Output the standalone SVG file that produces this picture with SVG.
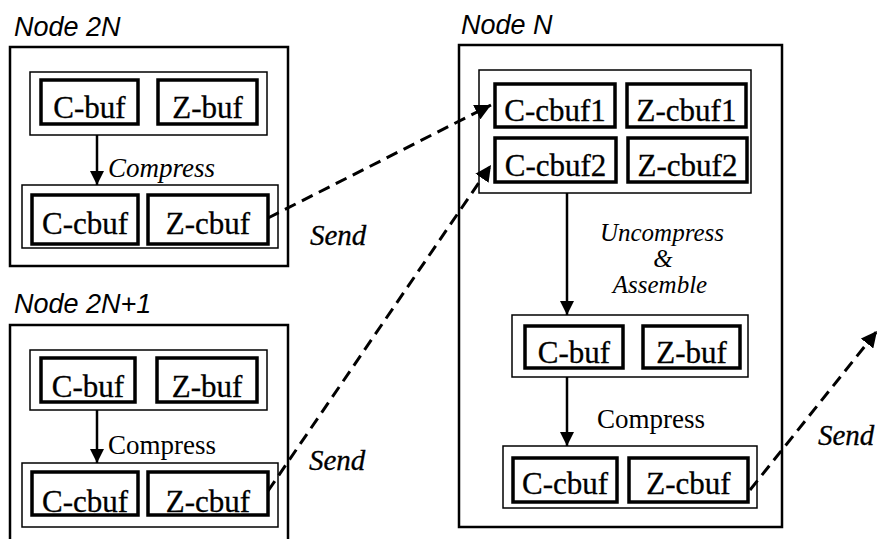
<svg xmlns="http://www.w3.org/2000/svg" width="877" height="539" viewBox="0 0 877 539">
  <style>
    .node { fill: none; stroke: #000; stroke-width: 2.5; }
    .group { fill: none; stroke: #000; stroke-width: 1.5; }
    .buf { fill: #fff; stroke: #000; stroke-width: 3.5; }
    .title { font-family: "Liberation Sans", Arial, sans-serif; font-style: italic; font-size: 27px; fill: #000; }
    .label { font-family: "Liberation Serif", "Times New Roman", serif; font-size: 31px; fill: #000; stroke: #000; stroke-width: 0.3; text-anchor: middle; }
    .op { font-family: "Liberation Serif", "Times New Roman", serif; font-size: 27px; fill: #000; }
    .opi { font-family: "Liberation Serif", "Times New Roman", serif; font-style: italic; font-size: 27px; fill: #000; }
    .stack { font-family: "Liberation Serif", "Times New Roman", serif; font-style: italic; font-size: 25px; fill: #000; text-anchor: middle; }
    .sendlbl { font-family: "Liberation Serif", "Times New Roman", serif; font-style: italic; font-size: 29px; fill: #000; stroke: #000; stroke-width: 0.3; }
    .flow { stroke: #000; stroke-width: 2.5; fill: none; }
    .send { stroke: #000; stroke-width: 3; fill: none; stroke-dasharray: 12 7; }
  </style>
  <defs>
    <marker id="solidHead" markerUnits="userSpaceOnUse" markerWidth="14" markerHeight="14" refX="14" refY="7" orient="auto">
      <path d="M0,0 L14,7 L0,14 Z" fill="#000"/>
    </marker>
    <marker id="sendHead" markerUnits="userSpaceOnUse" markerWidth="16" markerHeight="16" refX="16" refY="8" orient="auto">
      <path d="M0,0 L16,8 L0,16 Z" fill="#000"/>
    </marker>
  </defs>

  <rect width="877" height="539" fill="#fff"/>

  <!-- Node 2N -->
  <g id="node-2n">
    <text class="title" x="14" y="36">Node 2N</text>
    <rect class="node" x="10" y="47" width="278" height="219"/>
    <rect class="group" x="30" y="72" width="237" height="63"/>
    <rect class="buf" x="41" y="80" width="97" height="44"/>
    <text class="label" x="89.5" y="118">C-buf</text>
    <rect class="buf" x="158" y="80" width="99" height="44"/>
    <text class="label" x="207.5" y="118">Z-buf</text>
    <text class="opi" x="108" y="177">Compress</text>
    <rect class="group" x="22" y="185" width="256" height="63"/>
    <rect class="buf" x="32" y="195" width="106" height="49"/>
    <text class="label" x="85" y="234">C-cbuf</text>
    <rect class="buf" x="148" y="195" width="120" height="49"/>
    <text class="label" x="208" y="234">Z-cbuf</text>
  </g>

  <!-- Node 2N+1 -->
  <g id="node-2n1">
    <text class="title" x="14" y="313">Node 2N+1</text>
    <rect class="node" x="10" y="325" width="278" height="230"/>
    <rect class="group" x="30" y="350" width="237" height="60"/>
    <rect class="buf" x="41" y="358" width="94" height="44"/>
    <text class="label" x="88" y="397">C-buf</text>
    <rect class="buf" x="157" y="358" width="100" height="44"/>
    <text class="label" x="207" y="397">Z-buf</text>
    <text class="op" x="108" y="454">Compress</text>
    <rect class="group" x="22" y="463" width="256" height="64"/>
    <rect class="buf" x="32" y="472" width="106" height="43"/>
    <text class="label" x="85" y="512">C-cbuf</text>
    <rect class="buf" x="148" y="472" width="120" height="43"/>
    <text class="label" x="208" y="512">Z-cbuf</text>
  </g>

  <!-- Node N -->
  <g id="node-n">
    <text class="title" x="461" y="34">Node N</text>
    <rect class="node" x="459" y="45" width="323" height="482"/>
    <rect class="group" x="479" y="70" width="272" height="123"/>
    <rect class="buf" x="495" y="84" width="120" height="43"/>
    <text class="label" x="555" y="121">C-cbuf1</text>
    <rect class="buf" x="627" y="84" width="119" height="43"/>
    <text class="label" x="686.5" y="121">Z-cbuf1</text>
    <rect class="buf" x="495" y="138" width="121" height="44"/>
    <text class="label" x="555.5" y="176">C-cbuf2</text>
    <rect class="buf" x="628" y="138" width="119" height="44"/>
    <text class="label" x="687.5" y="176">Z-cbuf2</text>
    <text class="stack" x="662" y="241">Uncompress</text>
    <text class="stack" x="663" y="267">&amp;</text>
    <text class="stack" x="660" y="293">Assemble</text>
    <rect class="group" x="512" y="315" width="236" height="62"/>
    <rect class="buf" x="525" y="326" width="98" height="42"/>
    <text class="label" x="574" y="363">C-buf</text>
    <rect class="buf" x="643" y="326" width="97" height="42"/>
    <text class="label" x="691.5" y="363">Z-buf</text>
    <text class="op" x="597" y="428">Compress</text>
    <rect class="group" x="503" y="446" width="254" height="62"/>
    <rect class="buf" x="513" y="458" width="104" height="44"/>
    <text class="label" x="565" y="494">C-cbuf</text>
    <rect class="buf" x="629" y="458" width="119" height="44"/>
    <text class="label" x="688.5" y="494">Z-cbuf</text>
  </g>

  <!-- Connectors -->
  <g id="connectors">
    <line class="flow" x1="97" y1="135" x2="97" y2="185" marker-end="url(#solidHead)"/>
    <line class="flow" x1="97" y1="410" x2="97" y2="463" marker-end="url(#solidHead)"/>
    <line class="flow" x1="567" y1="193" x2="567" y2="315" marker-end="url(#solidHead)"/>
    <line class="flow" x1="567" y1="377" x2="567" y2="446" marker-end="url(#solidHead)"/>
    <line class="send" x1="268" y1="218" x2="491" y2="105" marker-end="url(#sendHead)"/>
    <line class="send" x1="268" y1="491" x2="491" y2="165" marker-end="url(#sendHead)"/>
    <line class="send" x1="750" y1="490" x2="877" y2="331" marker-end="url(#sendHead)"/>
    <text class="sendlbl" x="310" y="245">Send</text>
    <text class="sendlbl" x="309" y="470">Send</text>
    <text class="sendlbl" x="818" y="445">Send</text>
  </g>
</svg>
